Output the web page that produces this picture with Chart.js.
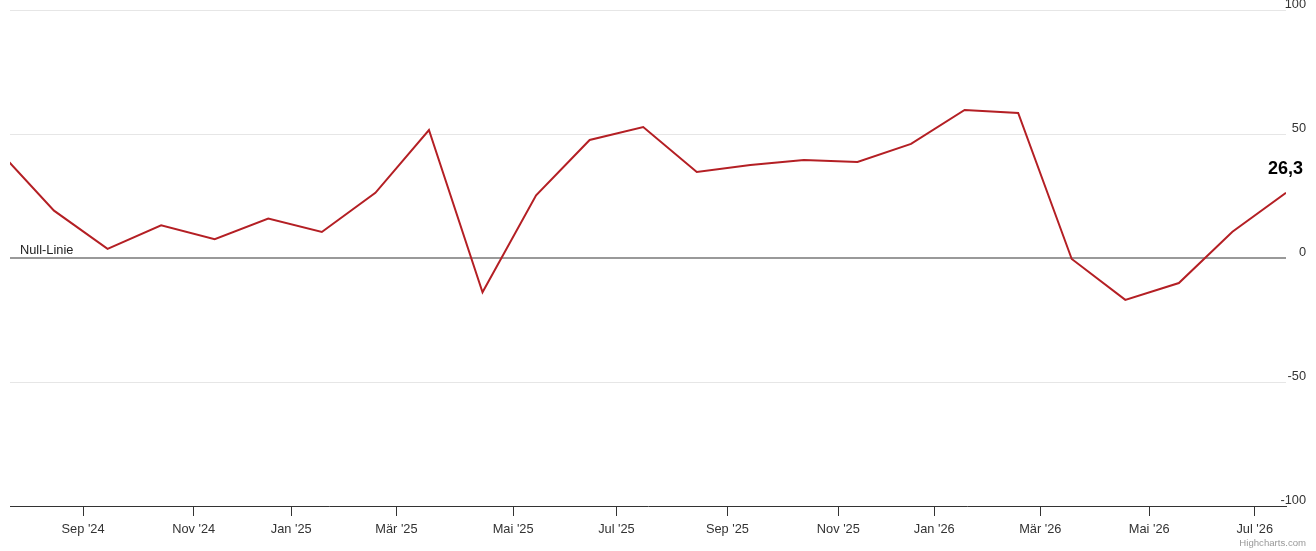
<!DOCTYPE html>
<html>
<head>
<meta charset="utf-8">
<script src="https://cdn.jsdelivr.net/npm/chart.js@4/dist/chart.umd.min.js"></script>
<style>
  html, body { margin: 0; padding: 0; background: #fff; }
  #wrap { width: 1316px; height: 551px; position: relative; }
</style>
</head>
<body>
<div id="wrap"><canvas id="c"></canvas></div>
<script>
// release dates of each value (points are spaced evenly, ordinal axis)
const dates = [
  '2024-07-16', '2024-08-13', '2024-09-17', '2024-10-15', '2024-11-12', '2024-12-17',
  '2025-01-21', '2025-02-18', '2025-03-18', '2025-04-15', '2025-05-13', '2025-06-17',
  '2025-07-15', '2025-08-12', '2025-09-16', '2025-10-14', '2025-11-11', '2025-12-16',
  '2026-01-22', '2026-02-17', '2026-03-18', '2026-04-14', '2026-05-22', '2026-06-16',
  '2026-07-22'
];
const values = [
  42.5, 19.1, 3.7, 13.2, 7.6, 15.9,
  10.5, 26.3, 51.6, -13.8, 25.3, 47.6,
  52.8, 34.7, 37.5, 39.5, 38.7, 46.0,
  59.7, 58.5, -0.4, -16.9, -10.1, 10.6,
  26.3
];
const tickDates = [
  '2024-09-01', '2024-11-01', '2025-01-01', '2025-03-01', '2025-05-01', '2025-07-01',
  '2025-09-01', '2025-11-01', '2026-01-01', '2026-03-01', '2026-05-01', '2026-07-01'
];
const tickLabels = [
  "Sep '24", "Nov '24", "Jan '25", "Mär '25", "Mai '25", "Jul '25",
  "Sep '25", "Nov '25", "Jan '26", "Mär '26", "Mai '26", "Jul '26"
];
const viewStart = '2024-07-21';
const yTicks = [-100, -50, 0, 50, 100];

const FONT = 'Helvetica, Arial, "Liberation Sans", sans-serif';

// date -> position on the ordinal (evenly spaced) axis
function ordinal(d) {
  const t = Date.parse(d);
  const ts = dates.map(x => Date.parse(x));
  for (let i = 0; i < ts.length - 1; i++) {
    if (t >= ts[i] && t <= ts[i + 1]) return i + (t - ts[i]) / (ts[i + 1] - ts[i]);
  }
  return t < ts[0] ? 0 : ts.length - 1;
}

const points = values.map((v, i) => ({ x: i, y: v }));
const tickPos = tickDates.map(ordinal);

const extras = {
  id: 'extras',
  afterDatasetsDraw(chart) {
    const ctx = chart.ctx;
    const x = chart.scales.x, y = chart.scales.y;
    ctx.save();
    // y labels sit above their grid lines and may run into the plot (chart.js would clip them)
    ctx.font = '12.8px ' + FONT;
    ctx.fillStyle = '#333';
    ctx.textAlign = 'right';
    ctx.textBaseline = 'middle';
    yTicks.forEach(v => ctx.fillText(String(v), y.right, y.getPixelForValue(v) - 5.5));
    // Null-Linie label
    ctx.fillStyle = '#222';
    ctx.textAlign = 'left';
    ctx.fillText('Null-Linie', chart.chartArea.left + 10, y.getPixelForValue(0) - 8);
    // last value label
    const last = points[points.length - 1];
    const px = x.getPixelForValue(last.x), py = y.getPixelForValue(last.y);
    ctx.font = 'bold 18px ' + FONT;
    ctx.fillStyle = '#000';
    ctx.textAlign = 'right';
    ctx.fillText(last.y.toLocaleString('de-DE', { minimumFractionDigits: 1 }), px + 17, py - 24);
    // credits
    ctx.font = '9.6px ' + FONT;
    ctx.fillStyle = '#999';
    ctx.fillText('Highcharts.com', chart.width - 10, chart.height - 8);
    ctx.restore();
  }
};

new Chart(document.getElementById('c'), {
  type: 'line',
  data: {
    datasets: [{
      data: points,
      borderColor: '#b41f24',
      borderWidth: 2,
      pointRadius: 0,
      fill: false,
      tension: 0,
      clip: 0
    }]
  },
  options: {
    responsive: true,
    maintainAspectRatio: false,
    animation: false,
    layout: { padding: { left: 10, right: 10, top: 10, bottom: 0 } },
    plugins: { legend: { display: false }, tooltip: { enabled: false } },
    scales: {
      x: {
        type: 'linear',
        min: ordinal(viewStart),
        max: points.length - 1,
        afterBuildTicks: s => { s.ticks = tickPos.map(v => ({ value: v })); },
        afterFit: s => { s.height = 45; },
        grid: { drawOnChartArea: false, drawTicks: true, tickLength: 10, tickColor: '#333', tickWidth: 1 },
        border: { display: true, color: '#333', width: 1 },
        ticks: {
          autoSkip: false, maxRotation: 0, padding: 6,
          color: '#333', font: { family: FONT, size: 12.8 },
          callback: (v, i) => tickLabels[i]
        }
      },
      y: {
        position: 'right',
        min: yTicks[0],
        max: yTicks[yTicks.length - 1],
        afterBuildTicks: s => { s.ticks = yTicks.map(v => ({ value: v })); },
        afterFit: s => { s.width = 20; },
        border: { display: false },
        grid: {
          drawTicks: false,
          color: c => c.tick.value === 0 ? '#999' : (c.tick.value === -100 ? 'rgba(0,0,0,0)' : '#e6e6e6'),
          lineWidth: c => c.tick.value === 0 ? 2 : 1
        },
        ticks: { display: false }
      }
    }
  },
  plugins: [extras]
});
</script>
</body>
</html>
